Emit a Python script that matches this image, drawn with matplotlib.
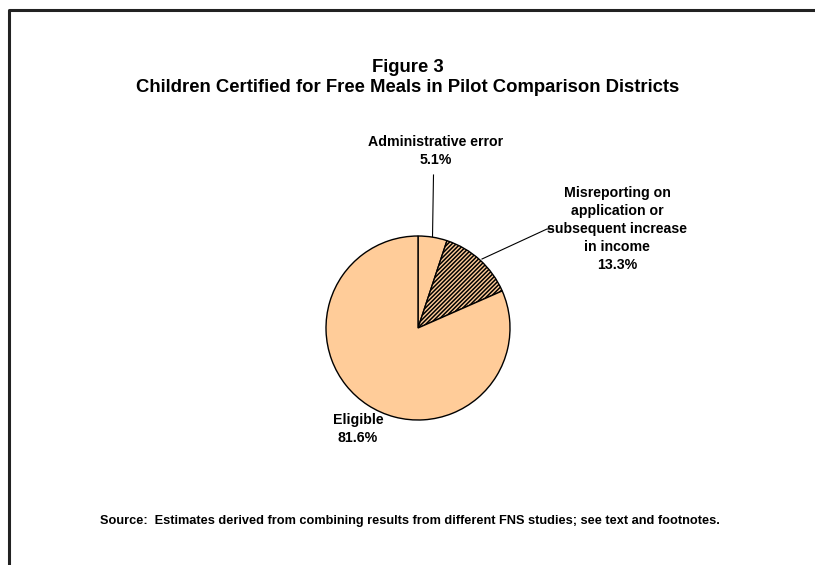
import matplotlib.pyplot as plt

plt.rcParams['font.family'] = ['Liberation Sans', 'DejaVu Sans']
plt.rcParams['font.weight'] = 'bold'
plt.rcParams['hatch.color'] = "#3a2a1a"
plt.rcParams['hatch.linewidth'] = 1.1

# data
labels = ["Administrative error", "Misreporting on\napplication or\nsubsequent increase\nin income", "Eligible"]
shares = [5.1, 13.3, 81.6]
hatches = [None, "////////", None]

W, H = 815, 565
fig = plt.figure(figsize=(W / 100, H / 100), dpi=100)
ax = fig.add_axes([0, 0, 1, 1])
ax.set_xlim(0, W)
ax.set_ylim(H, 0)
ax.axis("off")

# frame around the chart area (bottom and right run off the picture)
ax.plot([8.5, 8.5, W], [H, 9.5, 9.5], color="#222222", lw=2.2, solid_capstyle="butt")

ax.text(W / 2, 68, "Figure 3", ha="center", va="center", fontsize=13.3)
ax.text(W / 2, 87, "Children Certified for Free Meals in Pilot Comparison Districts",
        ha="center", va="center", fontsize=13.3)

# pie on a separate axes with normal y direction
cx, cy, r = 418, 328, 92
pax = fig.add_axes([0, 0, 1, 1])
wedges, _ = pax.pie(shares, startangle=90, counterclock=False, colors=["#FFCC99"] * 3,
                    center=(cx, H - cy), radius=r, frame=True,
                    wedgeprops=dict(edgecolor="black", linewidth=1.0))
pax.set_xlim(0, W)
pax.set_ylim(0, H)
pax.axis("off")
for w, h in zip(wedges, hatches):
    if h:
        w.set_hatch(h)

# leader lines and labels
ax.plot([432.5, 433.5], [237, 175], color="black", lw=0.8)
ax.plot([482, 547, 553], [259, 229, 229], color="black", lw=0.8)

ax.text(436, 151, f"{labels[0]}\n{shares[0]}%", ha="center", va="center",
        fontsize=10.2, linespacing=1.35)
ax.text(617, 229, f"{labels[1]}\n{shares[1]}%", ha="center", va="center",
        fontsize=10.2, linespacing=1.35)
ax.text(358, 429, f"{labels[2]}\n{shares[2]}%", ha="center", va="center",
        fontsize=10.2, linespacing=1.35)

ax.text(W / 2 + 2, 521,
        "Source:  Estimates derived from combining results from different FNS studies; see text and footnotes.",
        ha="center", va="center", fontsize=9.2)

fig.savefig("out.png", dpi=100)
